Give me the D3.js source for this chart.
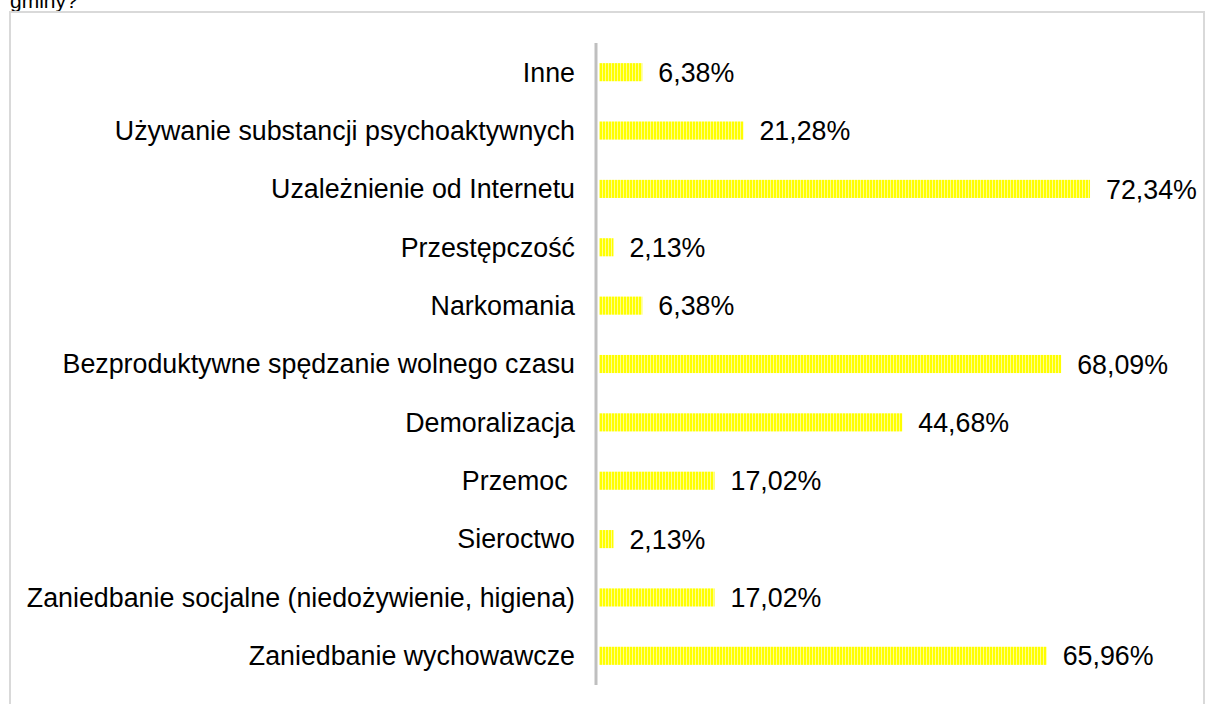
<!DOCTYPE html>
<html>
<head>
<meta charset="utf-8">
<script src="https://cdn.jsdelivr.net/npm/d3@7"></script>
<style>
  body { margin: 0; background: #fff; }
  svg { display: block; font-family: Arial, "Liberation Sans", sans-serif; }
</style>
</head>
<body>
<div id="chart"></div>
<script>
// Datos (de arriba a abajo)
const categorias = [
  'Inne',
  'Używanie substancji psychoaktywnych',
  'Uzależnienie od Internetu',
  'Przestępczość',
  'Narkomania',
  'Bezproduktywne spędzanie wolnego czasu',
  'Demoralizacja',
  'Przemoc ',
  'Sieroctwo',
  'Zaniedbanie socjalne (niedożywienie, higiena)',
  'Zaniedbanie wychowawcze'
];
const valores = [6.38, 21.28, 72.34, 2.13, 6.38, 68.09, 44.68, 17.02, 2.13, 17.02, 65.96];
const tituloCorte = 'gminy?';

const width = 1206, height = 704;
const svg = d3.select('#chart').append('svg')
  .attr('width', width)
  .attr('height', height);

// Patrón de rayas verticales
const defs = svg.append('defs');
const pat = defs.append('pattern')
  .attr('id', 'rayas')
  .attr('patternUnits', 'userSpaceOnUse')
  .attr('width', 3).attr('height', 10);
pat.append('rect').attr('width', 3).attr('height', 10).attr('fill', '#ffff00');
pat.append('rect').attr('x', 2).attr('width', 1).attr('height', 10).attr('fill', '#ffff8c');

// Título cortado arriba (como en el original)
svg.append('text')
  .attr('x', 10).attr('y', 8)
  .attr('font-size', 21)
  .attr('fill', '#000')
  .text(tituloCorte);

// Marco
svg.append('rect')
  .attr('x', 10).attr('y', 12)
  .attr('width', 1194).attr('height', 720)
  .attr('fill', 'none')
  .attr('stroke', '#d9d9d9')
  .attr('stroke-width', 2);

// Escalas
const x = d3.scaleLinear().domain([0, 80]).range([599, 1142]);
const y = d3.scaleBand().domain(categorias).range([43, 685])
  .paddingInner(0.69).paddingOuter(0.345);

const datos = categorias.map((c, i) => ({ cat: c, val: valores[i] }));

// Barras
svg.append('g').selectAll('rect').data(datos).enter().append('rect')
  .attr('x', x(0))
  .attr('y', d => y(d.cat))
  .attr('width', d => x(d.val) - x(0))
  .attr('height', y.bandwidth())
  .attr('fill', 'url(#rayas)');

// Eje vertical
svg.append('line')
  .attr('x1', 596).attr('x2', 596)
  .attr('y1', 43).attr('y2', 685)
  .attr('stroke', '#bfbfbf')
  .attr('stroke-width', 3);

// Etiquetas de categoría
svg.append('g').selectAll('text').data(datos).enter().append('text')
  .attr('x', 575)
  .attr('y', d => y(d.cat) + y.bandwidth() / 2)
  .attr('dy', '0.35em')
  .attr('text-anchor', 'end')
  .attr('font-size', 26.8)
  .attr('fill', '#000')
  .style('white-space', 'pre')
  .text(d => d.cat);

// Etiquetas de valor
svg.append('g').selectAll('text').data(datos).enter().append('text')
  .attr('x', d => x(d.val) + 16)
  .attr('y', d => y(d.cat) + y.bandwidth() / 2)
  .attr('dy', '0.36em')
  .attr('font-size', 26.8)
  .attr('fill', '#000')
  .text(d => d.val.toFixed(2).replace('.', ',') + '%');
</script>
</body>
</html>
